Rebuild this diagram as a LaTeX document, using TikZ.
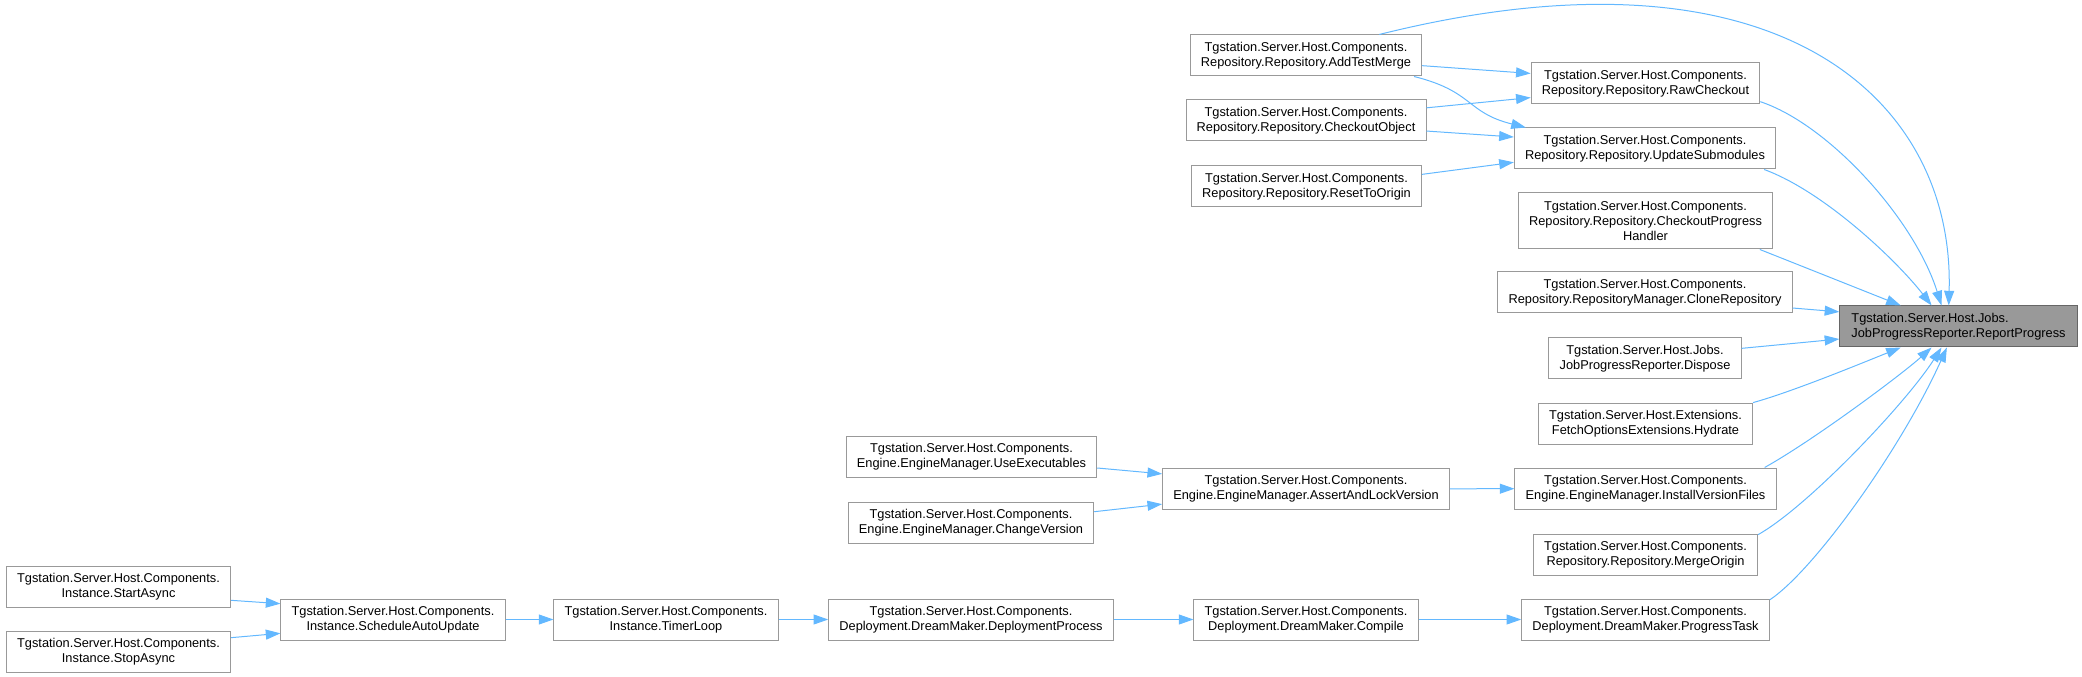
\documentclass[tikz,border=0pt]{standalone}
\usepackage{fontspec}
\setmainfont{Liberation Sans}
\usetikzlibrary{arrows.meta}
\definecolor{nodegray}{HTML}{999999}
\definecolor{rootgray}{HTML}{999999}
\definecolor{rootborder}{HTML}{666666}
\definecolor{callblue}{HTML}{63B8FF}

\begin{document}
\begin{tikzpicture}[
    x=0.75pt, y=-0.75pt,
    fn/.style={draw=nodegray, fill=white, line width=0.75pt, align=center,
      inner xsep=8pt, inner ysep=2pt, minimum height=30.75pt,
      font=\fontsize{9.6}{11.25}\selectfont},
    root/.style={fn, fill=rootgray, draw=rootborder, align=left, inner xsep=8.7pt},
    call/.style={draw=callblue, line width=0.75pt, -{Triangle[length=11pt,width=7.5pt]}}
  ]
  \useasboundingbox (0,0) rectangle (2082,677);

  % root
  \node[root] (report) at (1958.5,326.5) {Tgstation.Server.Host.Jobs.\\JobProgressReporter.ReportProgress};

  % direct callers
  \node[fn] (raw) at (1645.5,83.5) {Tgstation.Server.Host.Components.\\Repository.Repository.RawCheckout};
  \node[fn] (submods) at (1645,148.5) {Tgstation.Server.Host.Components.\\Repository.Repository.UpdateSubmodules};
  \node[fn, minimum height=42pt] (cph) at (1645.5,221) {Tgstation.Server.Host.Components.\\Repository.Repository.CheckoutProgress\\Handler};
  \node[fn] (clone) at (1645,292.5) {Tgstation.Server.Host.Components.\\Repository.RepositoryManager.CloneRepository};
  \node[fn] (dispose) at (1645,358.5) {Tgstation.Server.Host.Jobs.\\JobProgressReporter.Dispose};
  \node[fn] (hydrate) at (1645.5,423.5) {Tgstation.Server.Host.Extensions.\\FetchOptionsExtensions.Hydrate};
  \node[fn] (install) at (1645.5,488.5) {Tgstation.Server.Host.Components.\\Engine.EngineManager.InstallVersionFiles};
  \node[fn] (merge) at (1645.5,554.5) {Tgstation.Server.Host.Components.\\Repository.Repository.MergeOrigin};
  \node[fn] (progtask) at (1645.5,619.5) {Tgstation.Server.Host.Components.\\Deployment.DreamMaker.ProgressTask};

  % second level
  \node[fn] (addmerge) at (1306,55.5) {Tgstation.Server.Host.Components.\\Repository.Repository.AddTestMerge};
  \node[fn] (chkobj) at (1306,120.5) {Tgstation.Server.Host.Components.\\Repository.Repository.CheckoutObject};
  \node[fn] (reset) at (1306.5,186.5) {Tgstation.Server.Host.Components.\\Repository.Repository.ResetToOrigin};
  \node[fn] (assert) at (1306,489) {Tgstation.Server.Host.Components.\\Engine.EngineManager.AssertAndLockVersion};
  \node[fn] (compile) at (1306,619.5) {Tgstation.Server.Host.Components.\\Deployment.DreamMaker.Compile};

  % further callers
  \node[fn] (useexe) at (971.5,457) {Tgstation.Server.Host.Components.\\Engine.EngineManager.UseExecutables};
  \node[fn] (chgver) at (971,522.5) {Tgstation.Server.Host.Components.\\Engine.EngineManager.ChangeVersion};
  \node[fn] (deploy) at (971,619.5) {Tgstation.Server.Host.Components.\\Deployment.DreamMaker.DeploymentProcess};
  \node[fn] (timer) at (666,619.5) {Tgstation.Server.Host.Components.\\Instance.TimerLoop};
  \node[fn] (sched) at (393,619.5) {Tgstation.Server.Host.Components.\\Instance.ScheduleAutoUpdate};
  \node[fn] (start) at (118.5,586.5) {Tgstation.Server.Host.Components.\\Instance.StartAsync};
  \node[fn] (stop) at (118.5,651.5) {Tgstation.Server.Host.Components.\\Instance.StopAsync};

  % calls into the root
  \draw[call] (addmerge.16) .. controls +(400,-100) and +(6,-206) .. (report.115);
  \draw[call] (raw.-9) .. controls +(69,23) and +(-27,-86) .. (report.129);
  \draw[call] (submods.-10) .. controls +(60,22) and +(-35,-45) .. (report.142);
  \draw[call] (cph.-14) -- (report.160);
  \draw[call] (clone.-6) -- (report.173);
  \draw[call] (dispose.6) -- (report.186);
  \draw[call] (hydrate.11) .. controls +(40,-11) and +(-35,14) .. (report.200);
  \draw[call] (install.10) .. controls +(50,-28) and +(-30,27) .. (report.218);
  \draw[call] (merge.10) .. controls +(50,-28) and +(-35,55) .. (report.231);
  \draw[call] (progtask.9) .. controls +(45,-30) and +(-45,100) .. (report.241);

  % repository calls
  \draw[call] (addmerge.-5) -- (raw.175);
  \draw[call] (addmerge.-11) .. controls +(60,15) and +(-60,-15) .. (submods.170);
  \draw[call] (chkobj.6) -- (raw.187);
  \draw[call] (chkobj.-5) -- (submods.175);
  \draw[call] (reset.6) -- (submods.186);

  % engine calls
  \draw[call] (useexe.-5) -- (assert.174);
  \draw[call] (chgver.5) -- (assert.186);
  \draw[call] (assert) -- (install);

  % deployment chain
  \draw[call] (compile) -- (progtask);
  \draw[call] (deploy) -- (compile);
  \draw[call] (timer) -- (deploy);
  \draw[call] (sched) -- (timer);
  \draw[call] (start.-7) -- (sched.172);
  \draw[call] (stop.7) -- (sched.187);
\end{tikzpicture}
\end{document}
